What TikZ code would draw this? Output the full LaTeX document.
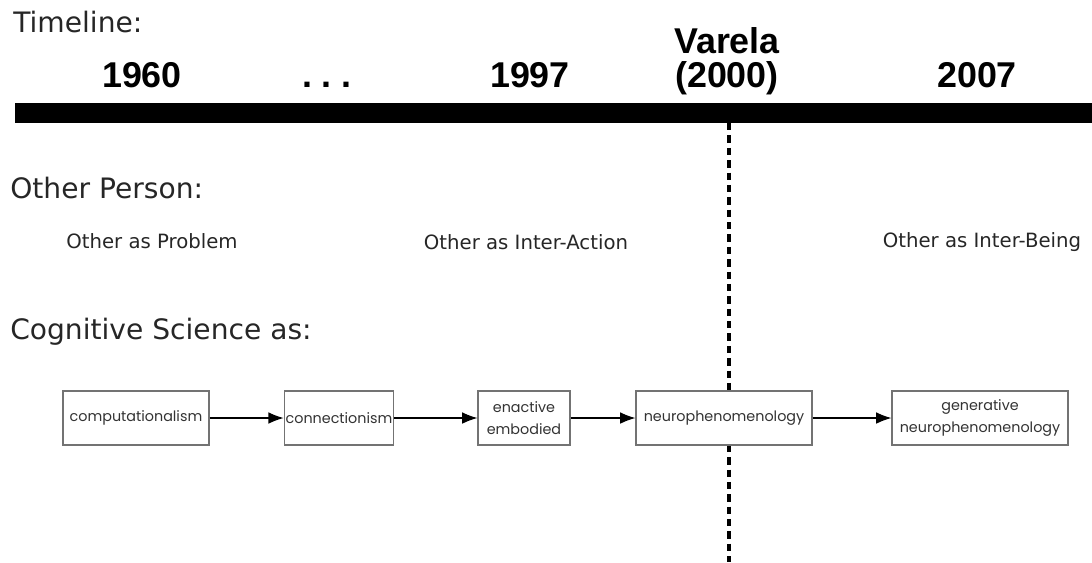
\documentclass[tikz,border=0pt]{standalone}
\usepackage{fontspec}
\setmainfont{DejaVu Sans}
\newfontfamily\yearfont{Liberation Sans}
\newfontfamily\stagefont{Poppins}
\usetikzlibrary{arrows.meta}

\tikzset{
  heading/.style={anchor=base west, inner sep=0pt, text=black!85, font=\fontsize{20}{23}\selectfont},
  otherlbl/.style={anchor=base, inner sep=0pt, text=black!85, font=\fontsize{14}{17}\selectfont},
  yearlbl/.style={inner sep=0pt, align=center, font=\yearfont\bfseries\fontsize{25.5}{24}\selectfont},
  stage/.style={draw=black!55, fill=white, line width=0.8pt, inner sep=1pt, align=center,
    minimum height=1.35cm, text=black!80, font=\stagefont\fontsize{10.2}{16}\selectfont},
  flow/.style={line width=0.8pt, -{Latex[length=3.8mm,width=2.9mm]}},
}

\begin{document}
\begin{tikzpicture}[x=0.025cm,y=-0.025cm]
\useasboundingbox (0,0) rectangle (1092,562);

\node[heading] (timeline) at (13,32) {Timeline:};
\node[yearlbl, anchor=base] (y1960) at (142,87) {1960};
\node[yearlbl, anchor=base] (dots) at (327,87) {.\ .\ .};
\node[yearlbl, anchor=base] (y1997) at (530,87) {1997};
\node[yearlbl, anchor=south] (varela) at (727,95) {Varela\\(2000)};
\node[yearlbl, anchor=base] (y2007) at (977,87) {2007};
\fill (15,103) rectangle (1092,123);

\draw [line width=2.85pt, dash pattern=on 5.3pt off 3.5pt] (729,123) -- (729,562);

\node[heading] (person) at (10,198) {Other Person:};
\node[otherlbl] (problem) at (152,248) {Other as Problem};
\node[otherlbl] (interaction) at (526,249) {Other as Inter-Action};
\node[otherlbl] (interbeing) at (982,247) {Other as Inter-Being};

\node[heading] (cogsci) at (10,339) {Cognitive Science as:};
\node[stage, minimum width=3.65cm] (comp) at (136,418) {computationalism};
\node[stage, minimum width=2.6cm] (conn) at (339,418) {connectionism};
\node[stage, minimum width=2.3cm] (enact) at (524,418) {enactive\\embodied};
\node[stage, minimum width=4.4cm] (neuro) at (724,418) {neurophenomenology};
\node[stage, minimum width=4.4cm] (gen) at (980,418) {generative\\neurophenomenology};

\draw[flow] (comp) -- (conn);
\draw[flow] (conn) -- (enact);
\draw[flow] (enact) -- (neuro);
\draw[flow] (neuro) -- (gen);

\end{tikzpicture}
\end{document}
